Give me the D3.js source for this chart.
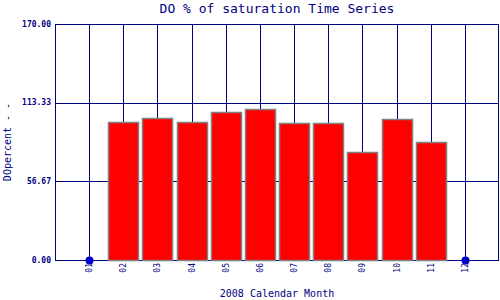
<!DOCTYPE html>
<html>
<head>
<meta charset="utf-8">
<script src="https://cdn.jsdelivr.net/npm/d3@7"></script>
<style>
  body { margin: 0; background: #fff; }
  svg { display: block; }
  text { font-family: "DejaVu Sans Mono", "Liberation Mono", monospace; fill: #000080; }
</style>
</head>
<body>
<div id="chart"></div>
<script>
// months on the x axis, 01..12
var months = ['01', '02', '03', '04', '05', '06', '07', '08', '09', '10', '11', '12'];
// DO % of saturation per month, null = no sample (drawn as dot on 0)
var doValues = [null, 99.2, 102.1, 99.2, 106.4, 108.6, 98.5, 98.5, 77.6, 101.4, 84.8, null];
var yTicks = [0, 56.67, 113.33, 170];

var width = 500, height = 300;
var margin = {left: 55, right: 1, top: 24, bottom: 40};
var navy = '#000080';

var svg = d3.select('#chart').append('svg')
    .attr('width', width).attr('height', height);

// one extra empty slot at both ends of the month axis
var x = d3.scaleLinear().domain([0, 13]).range([margin.left, width - margin.right]);
var y = d3.scaleLinear().domain([0, 170]).range([height - margin.bottom, margin.top]);

// horizontal grid lines
svg.append('g').selectAll('line')
    .data(yTicks)
    .enter().append('line')
    .attr('x1', x(0)).attr('x2', x(13))
    .attr('y1', function (d) { return Math.round(y(d)) + 0.5; })
    .attr('y2', function (d) { return Math.round(y(d)) + 0.5; })
    .attr('stroke', navy).attr('stroke-width', 1);

// vertical grid lines, one per month
svg.append('g').selectAll('line')
    .data(months)
    .enter().append('line')
    .attr('x1', function (d, i) { return Math.round(x(i + 1)) + 0.5; })
    .attr('x2', function (d, i) { return Math.round(x(i + 1)) + 0.5; })
    .attr('y1', y(170)).attr('y2', y(0))
    .attr('stroke', navy).attr('stroke-width', 1);

// plot frame
svg.append('rect')
    .attr('x', Math.round(x(0)) + 0.5).attr('y', Math.round(y(170)) + 0.5)
    .attr('width', Math.round(x(13)) - Math.round(x(0)) - 1)
    .attr('height', Math.round(y(0)) - Math.round(y(170)))
    .attr('fill', 'none').attr('stroke', navy);

// bars
var barW = 30;
svg.append('g').selectAll('rect')
    .data(doValues.map(function (v, i) { return {v: v, i: i}; }).filter(function (d) { return d.v !== null; }))
    .enter().append('rect')
    .attr('x', function (d) { return Math.round(x(d.i + 1) - barW / 2) + 0.5; })
    .attr('y', function (d) { return Math.round(y(d.v)) + 0.5; })
    .attr('width', barW)
    .attr('height', function (d) { return Math.round(y(0)) - Math.round(y(d.v)); })
    .attr('fill', '#ff0000')
    .attr('stroke', '#808080').attr('stroke-width', 1.5);

// missing months -> dot on the zero line
svg.append('g').selectAll('circle')
    .data(doValues.map(function (v, i) { return {v: v, i: i}; }).filter(function (d) { return d.v === null; }))
    .enter().append('circle')
    .attr('cx', function (d) { return Math.round(x(d.i + 1)) + 0.5; })
    .attr('cy', Math.round(y(0)) + 0.5)
    .attr('r', 4)
    .attr('fill', '#0000cc');

// y tick labels
svg.append('g').selectAll('text')
    .data(yTicks)
    .enter().append('text')
    .attr('x', margin.left - 4)
    .attr('y', function (d) { return y(d); })
    .attr('text-anchor', 'end')
    .attr('dominant-baseline', 'middle')
    .style('font-size', '8px').style('font-weight', 'bold')
    .text(function (d) { return d3.format('.2f')(d); });

// x tick labels, rotated
svg.append('g').selectAll('text')
    .data(months)
    .enter().append('text')
    .attr('transform', function (d, i) { return 'translate(' + (Math.round(x(i + 1)) + 0.5) + ',' + (y(0) + 3) + ') rotate(-90)'; })
    .attr('text-anchor', 'end')
    .attr('dominant-baseline', 'middle')
    .style('font-size', '8px')
    .text(function (d) { return d; });

// titles
svg.append('text')
    .attr('x', (x(0) + x(13)) / 2).attr('y', 13)
    .attr('text-anchor', 'middle')
    .style('font-size', '13px')
    .text('DO % of saturation Time Series');

svg.append('text')
    .attr('x', (x(0) + x(13)) / 2).attr('y', 297)
    .attr('text-anchor', 'middle')
    .style('font-size', '10px')
    .text('2008 Calendar Month');

svg.append('text')
    .attr('transform', 'translate(11,' + ((y(0) + y(170)) / 2) + ') rotate(-90)')
    .attr('text-anchor', 'middle')
    .style('font-size', '10px')
    .text('DOpercent - -');
</script>
</body>
</html>
